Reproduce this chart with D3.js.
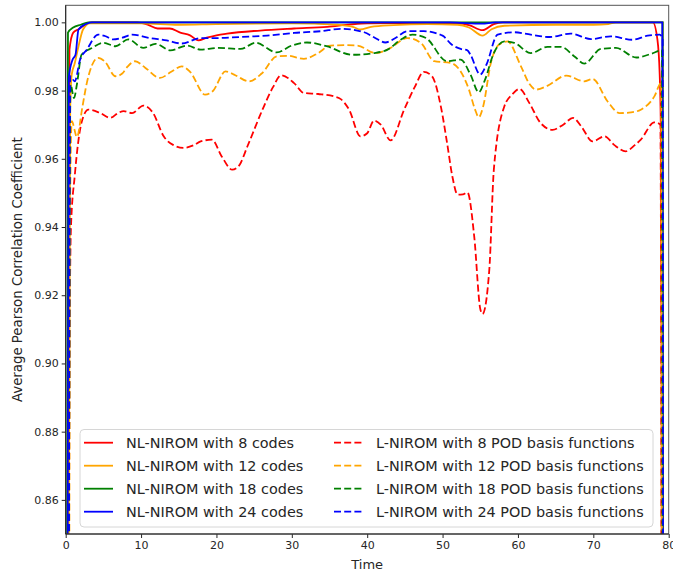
<!DOCTYPE html>
<html lang="en">
<head>
<meta charset="UTF-8">
<script src="https://d3js.org/d3.v7.min.js"></script>
<style>
body { margin: 0; background: white; }
text { font-family: "DejaVu Sans", sans-serif; fill: #262626; }
</style>
</head>
<body>
<div id="chart"></div>
<script>
// x ticks and y ticks
var xTicks = [0, 10, 20, 30, 40, 50, 60, 70, 80];
var yTicks = [0.86, 0.88, 0.90, 0.92, 0.94, 0.96, 0.98, 1.00];

// NL-NIROM (solid) curves, [time, coefficient]
var nl8 = [[0,0.6],[0.5,0.992],[1.0,0.997],[1.7,0.998],[2.8,0.9996],[3.5,1.0],[9.5,1.0],[10.8,0.9994],[12.2,0.9982],[13.8,0.9982],[15.2,0.997],[16.5,0.9962],[17.6,0.9947],[18.7,0.9955],[20,0.9962],[21.4,0.9967],[25.8,0.9976],[30.3,0.9982],[34.7,0.9987],[37.8,0.9994],[40,0.9997],[45,0.9998],[52,0.9997],[53.5,0.9992],[55.3,0.9977],[56.8,0.9995],[58,1.0],[77.9,1.0],[78.5,0.995],[78.8,0.985],[78.95,0.97],[79.05,0.9],[79.15,0.6]];
var nl12 = [[0,0.6],[0.6,0.975],[0.8,0.9847],[1.2,0.988],[1.7,0.993],[2.3,0.9979],[3.2,0.9997],[10,0.9997],[15,0.9993],[20,0.9995],[30,0.9997],[33,0.9996],[36,0.9993],[38.2,0.9986],[39.1,0.9979],[40.5,0.9987],[43.5,0.9992],[48,0.9995],[52,0.9993],[53.5,0.9985],[55.3,0.9961],[56.5,0.998],[58.2,0.999],[65,0.9993],[70,0.9993],[72,0.9995],[73,1.0],[79.2,1.0],[79.3,0.6]];
var nl18 = [[0,0.6],[0.3,0.997],[1.0,0.9985],[2.0,0.9993],[3.0,1.0],[79.2,1.0],[79.3,0.6]];
var nl24 = [[0,0.6],[0.4,0.9837],[0.9,0.989],[1.3,0.9905],[1.7,0.9979],[2.8,0.9996],[3.5,1.0],[51,1.0],[55.2,0.9996],[57,1.0],[79.15,1.0],[79.25,0.6]];

// L-NIROM (dashed) curves, [time, coefficient]
var l8 = [[0.4,0.80],[0.5,0.90],[0.7,0.94],[1.2,0.955],[2.1,0.9706],[3.0,0.9744],[4.5,0.9735],[5.9,0.972],[7.0,0.9735],[7.7,0.974],[8.8,0.9734],[10.3,0.9756],[11.6,0.9734],[13,0.9666],[14.3,0.964],[15.6,0.9632],[17.0,0.964],[17.9,0.9651],[19.4,0.9656],[20.7,0.9607],[22.1,0.9568],[23,0.958],[24.1,0.9636],[26.3,0.9754],[27.5,0.981],[28.6,0.9845],[30.3,0.9822],[31.6,0.9793],[33.5,0.979],[35.6,0.9783],[36.5,0.9775],[37.6,0.9744],[39.1,0.9666],[40,0.9675],[40.9,0.9712],[41.8,0.97],[43.1,0.9654],[44.9,0.9744],[46.3,0.981],[47.5,0.9855],[48.6,0.9842],[49.8,0.975],[50.6,0.9646],[51.3,0.9548],[52,0.9495],[52.7,0.9496],[53.3,0.9501],[54.2,0.9372],[55.0,0.916],[55.3,0.9145],[56.2,0.9275],[56.8,0.9568],[58.2,0.9754],[59.3,0.979],[60.2,0.9805],[61.5,0.9764],[63,0.9705],[64.6,0.9685],[66,0.97],[67.3,0.972],[68.4,0.9695],[69.9,0.9651],[71.5,0.9666],[72.8,0.964],[74.3,0.9622],[75.5,0.964],[76.3,0.9656],[78.1,0.9707],[78.9,0.970],[79.2,0.5]];
var l12 = [[0.45,0.80],[0.6,0.95],[0.8,0.971],[1.5,0.9664],[2.2,0.975],[2.8,0.9822],[3.5,0.9875],[4.3,0.9896],[5.2,0.9885],[6.6,0.9842],[7.5,0.985],[8.2,0.987],[9.2,0.9886],[10.5,0.9868],[12.5,0.9837],[14,0.9855],[15.4,0.9871],[16.5,0.9855],[18.5,0.9788],[19.5,0.9798],[21.2,0.9856],[22.5,0.9845],[24.3,0.9827],[26,0.985],[28,0.99],[29.5,0.9902],[31.6,0.9893],[33.5,0.991],[35.1,0.9932],[37,0.9933],[38.7,0.9932],[41.1,0.991],[43.1,0.9925],[45.3,0.9954],[47.1,0.994],[48.9,0.9886],[51.1,0.9881],[52.4,0.9856],[53.5,0.9803],[54.3,0.9745],[54.8,0.9722],[55.4,0.9755],[56.4,0.9881],[57.5,0.9935],[58.6,0.9944],[60.4,0.9871],[61.5,0.982],[62.4,0.9803],[63.9,0.9814],[66.4,0.9844],[68.8,0.9827],[69.9,0.9834],[71.9,0.9768],[73.5,0.9734],[75,0.9736],[76.3,0.9744],[78.1,0.9783],[79,0.9822],[79.2,0.5]];
var l18 = [[0.4,0.80],[0.55,0.96],[0.65,0.9817],[1.1,0.9778],[1.5,0.982],[2.1,0.9905],[3.5,0.9925],[5,0.994],[6.6,0.993],[8.3,0.995],[10.3,0.9925],[11.9,0.9937],[13.9,0.9918],[16.1,0.9932],[17.9,0.992],[20.1,0.9925],[23.2,0.9922],[25.2,0.994],[28,0.9912],[30,0.9932],[32,0.9941],[34.6,0.993],[38,0.9905],[40.9,0.991],[42.7,0.992],[44.5,0.995],[46,0.9964],[47.8,0.9954],[50.6,0.9886],[52.4,0.9891],[53.7,0.9847],[54.8,0.9795],[55.6,0.983],[56.8,0.991],[58.2,0.9944],[59.5,0.994],[61.7,0.991],[63.9,0.9928],[65.7,0.9928],[67.5,0.99],[68.8,0.9879],[71,0.9922],[73,0.9925],[75.7,0.9897],[77.7,0.9908],[79.1,0.9918],[79.25,0.5]];
var l24 = [[0.4,0.80],[0.55,0.97],[0.6,0.9842],[1.2,0.9827],[1.9,0.989],[2.8,0.992],[4.3,0.9964],[5.2,0.996],[6.3,0.995],[7.5,0.9955],[8.8,0.9964],[11.2,0.9954],[13.4,0.9947],[15.4,0.9938],[17.9,0.9954],[20.1,0.9954],[23,0.9957],[26.7,0.9961],[30.3,0.9969],[33.8,0.9974],[36.5,0.9981],[39.6,0.9971],[41,0.9955],[42.4,0.9941],[43.8,0.9955],[45.3,0.9974],[47.5,0.9974],[50,0.9961],[51.2,0.9935],[52.4,0.9922],[53.3,0.9918],[53.7,0.9905],[55,0.9847],[55.8,0.9875],[57.3,0.9964],[59.5,0.9971],[61.7,0.9964],[64.2,0.9957],[67,0.9967],[69.7,0.9951],[72.3,0.9959],[75.2,0.9949],[77.2,0.9961],[78.8,0.9964],[79.2,0.995],[79.3,0.5]];

var labels = ["NL-NIROM with 8 codes", "NL-NIROM with 12 codes", "NL-NIROM with 18 codes", "NL-NIROM with 24 codes",
              "L-NIROM with 8 POD basis functions", "L-NIROM with 12 POD basis functions",
              "L-NIROM with 18 POD basis functions", "L-NIROM with 24 POD basis functions"];
var seriesData = [nl8, nl12, nl18, nl24, l8, l12, l18, l24];
var colors = ["red", "orange", "green", "blue", "red", "orange", "green", "blue"];

var W = 673, H = 575;
var pl = 65.7, pr = 668.7, pt = 5.3, pb = 534;
var dash = "7,3.2";

var svg = d3.select("#chart").append("svg")
  .attr("width", W).attr("height", H);

var x = d3.scaleLinear().domain([0, 80]).range([pl, pr]);
var y = d3.scaleLinear().domain([0.85, 1.005]).range([pb, pt]);

svg.append("defs").append("clipPath").attr("id", "clip")
  .append("rect").attr("x", pl).attr("y", pt)
  .attr("width", pr - pl).attr("height", pb - pt);

var line = d3.line()
  .x(function(d) { return x(d[0]); })
  .y(function(d) { return y(d[1]); })
  .curve(d3.curveMonotoneX);

var plot = svg.append("g").attr("clip-path", "url(#clip)");
seriesData.forEach(function(s, i) {
  plot.append("path")
    .datum(s)
    .attr("d", line)
    .attr("fill", "none")
    .attr("stroke", colors[i])
    .attr("stroke-width", 1.8)
    .attr("stroke-dasharray", i >= 4 ? dash : null);
});

// axes
var xAxis = svg.append("g")
  .attr("transform", "translate(0," + pb + ")")
  .call(d3.axisBottom(x).tickValues(xTicks).tickSize(4).tickPadding(3));
var yAxis = svg.append("g")
  .attr("transform", "translate(" + pl + ",0)")
  .call(d3.axisLeft(y).tickValues(yTicks).tickFormat(d3.format(".2f")).tickSize(4).tickPadding(3));
[xAxis, yAxis].forEach(function(a) {
  a.select(".domain").remove();
  a.selectAll("text").style("font-size", "11px").attr("fill", "#262626");
  a.selectAll("line").attr("stroke", "#262626");
});

// frame
svg.append("rect")
  .attr("x", pl).attr("y", pt)
  .attr("width", pr - pl).attr("height", pb - pt)
  .attr("fill", "none").attr("stroke", "#555").attr("stroke-width", 1);
svg.append("line").attr("x1", pl).attr("x2", pl).attr("y1", pt).attr("y2", pb)
  .attr("stroke", "#222");
svg.append("line").attr("x1", pl).attr("x2", pr).attr("y1", pb).attr("y2", pb)
  .attr("stroke", "#222");

// axis labels
svg.append("text")
  .attr("x", x(40)).attr("y", 569)
  .attr("text-anchor", "middle")
  .style("font-size", "13px")
  .text("Time");
svg.append("text")
  .attr("transform", "translate(22," + ((pt + pb) / 2) + ") rotate(-90)")
  .attr("text-anchor", "middle")
  .style("font-size", "13.3px")
  .text("Average Pearson Correlation Coefficient");

// legend
var lg = svg.append("g");
lg.append("rect")
  .attr("x", 80).attr("y", 429.5)
  .attr("width", 573).attr("height", 97.5)
  .attr("rx", 4)
  .attr("fill", "white").attr("fill-opacity", 0.8)
  .attr("stroke", "#d6d6d6");
labels.forEach(function(lab, i) {
  var col = Math.floor(i / 4), row = i % 4;
  var hx = col === 0 ? 84 : 334;
  var cy = 442.7 + row * 23;
  lg.append("line")
    .attr("x1", hx).attr("x2", hx + 29)
    .attr("y1", cy).attr("y2", cy)
    .attr("stroke", colors[i]).attr("stroke-width", 1.8)
    .attr("stroke-dasharray", i >= 4 ? dash : null);
  lg.append("text")
    .attr("x", col === 0 ? 126 : 376)
    .attr("y", cy)
    .attr("dy", "0.36em")
    .style("font-size", "14.4px")
    .text(lab);
});
</script>
</body>
</html>
